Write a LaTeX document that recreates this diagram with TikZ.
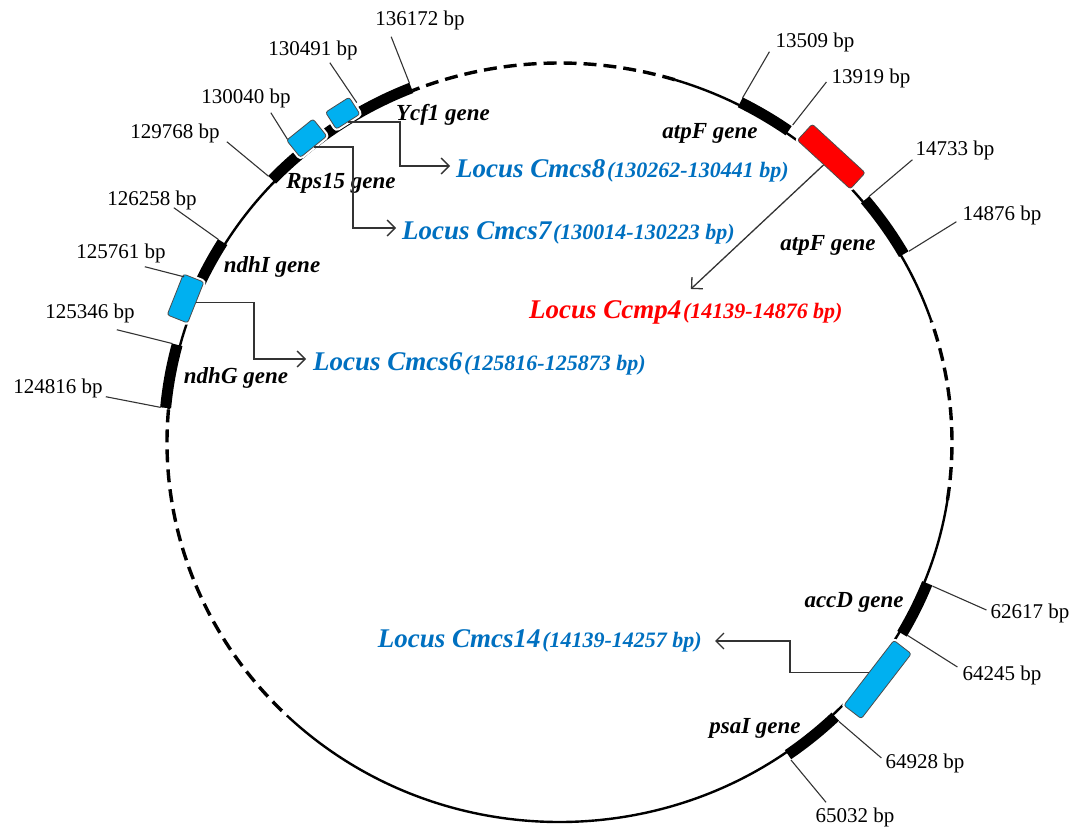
\documentclass[tikz,border=0pt]{standalone}
\usepackage{fontspec}
\setmainfont{Liberation Serif}
\usetikzlibrary{arrows.meta}

\definecolor{locusblue}{HTML}{0070C0}
\definecolor{boxblue}{HTML}{00B0F0}
\definecolor{ccmpred}{HTML}{FF0000}

\newcommand{\locus}[2]{{\fontsize{27}{30}\selectfont #1}\,{\fontsize{22}{24}\selectfont #2}}

\tikzset{
	onring/.style={x radius=392.5, y radius=379.5},
	onbar/.style={x radius=395.5, y radius=382.5},
	ring/.style={line width=2.4pt},
	ringdash/.style={line width=3.4pt, dash pattern=on 13pt off 7pt},
	genebar/.style={line width=11pt},
	locusbox/.style={draw=black!70, line width=0.8pt, fill=boxblue, rounded corners=2.5pt, inner sep=0pt,
		preaction={draw=white, line width=5pt}},
	tick/.style={draw=black!80, line width=1.1pt},
	conn/.style={draw=black!80, line width=1.3pt, -{Straight Barb[length=8pt,width=16pt]}},
	bp/.style={font=\fontsize{21}{24}\selectfont, inner sep=1pt},
	gene/.style={font=\fontsize{23}{26}\selectfont\bfseries\itshape, inner sep=1pt},
	locus/.style={font=\bfseries\itshape, text=locusblue, inner sep=1pt},
}

\begin{document}
\begin{tikzpicture}[x=1pt, y=-1pt]
	\useasboundingbox (0,0) rectangle (1076,829);

	% the ring, its genes and the points on it
	\begin{scope}[shift={(559.5,442.5)}, yscale=-1]
		\draw[ring]     (-134:392.5 and 379.5) arc[onring, start angle=-134, end angle=-8.7];
		\draw[ringdash] (-8.7:392.5 and 379.5) arc[onring, start angle=-8.7, end angle=18.7];
		\draw[ring]     (18.7:392.5 and 379.5) arc[onring, start angle=18.7, end angle=72.9];
		\draw[ringdash] (72.9:392.5 and 379.5) arc[onring, start angle=72.9, end angle=112];
		\draw[ring]     (112:392.5 and 379.5)  arc[onring, start angle=112,  end angle=175];
		\draw[ringdash] (175:392.5 and 379.5)  arc[onring, start angle=175,  end angle=226];

		\draw[genebar] (112:395.5 and 382.5)   arc[onbar, start angle=112,   end angle=136.6];
		\draw[genebar] (148.4:395.5 and 382.5) arc[onbar, start angle=148.4, end angle=156];
		\draw[genebar] (165.2:395.5 and 382.5) arc[onbar, start angle=165.2, end angle=174.8];
		\draw[genebar] (54.6:395.5 and 382.5)  arc[onbar, start angle=54.6,  end angle=62.8];
		\draw[genebar] (29.5:395.5 and 382.5)  arc[onbar, start angle=29.5,  end angle=39.4];
		\draw[genebar] (-30:395.5 and 382.5)   arc[onbar, start angle=-30,   end angle=-21.6];
		\draw[genebar] (-54.7:395.5 and 382.5) arc[onbar, start angle=-54.7, end angle=-45.8];

		\coordinate (t136172) at (112:400.5 and 387.5);
		\coordinate (t130491) at (120:405.5 and 392.5);
		\coordinate (t130040) at (131:414.5 and 401.5);
		\coordinate (t129768) at (136.6:400.5 and 387.5);
		\coordinate (t126258) at (148.4:400.5 and 387.5);
		\coordinate (t125761) at (155.5:412.5 and 399.5);
		\coordinate (t125346) at (165.2:400.5 and 387.5);
		\coordinate (t124816) at (174.8:400.5 and 387.5);
		\coordinate (t13509)  at (62.8:400.5 and 387.5);
		\coordinate (t13919)  at (54.6:402.5 and 389.5);
		\coordinate (t14733)  at (39.4:400.5 and 387.5);
		\coordinate (t14876)  at (29.5:401.5 and 388.5);
		\coordinate (t62617)  at (-21.7:401.5 and 388.5);
		\coordinate (t64245)  at (-29.8:400.5 and 387.5);
		\coordinate (t64928)  at (-45.9:401.5 and 388.5);
		\coordinate (t65032)  at (-54.8:401.5 and 388.5);

		\coordinate (p_cmcs8)  at (122.5:403.5 and 390.5);
		\coordinate (p_cmcs7)  at (128.8:403.5 and 390.5);
		\coordinate (p_cmcs6)  at (158.3:402.5 and 389.5);
		\coordinate (p_ccmp4)  at (47.4:401.5 and 388.5);
		\coordinate (p_cmcs14) at (-37.6:401.5 and 388.5);
	\end{scope}

	% loci
	\node[locusbox, minimum width=28pt, minimum height=20pt, rotate=32.5]  (box_cmcs8)  at (p_cmcs8)  {};
	\node[locusbox, minimum width=34pt, minimum height=22pt, rotate=38.8]  (box_cmcs7)  at (p_cmcs7)  {};
	\node[locusbox, minimum width=44pt, minimum height=22pt, rotate=68.3]  (box_cmcs6)  at (p_cmcs6)  {};
	\node[locusbox, minimum width=72pt, minimum height=22pt, rotate=-42.6, fill=ccmpred] (box_ccmp4) at (p_ccmp4) {};
	\node[locusbox, minimum width=82pt, minimum height=22pt, rotate=-127.6] (box_cmcs14) at (p_cmcs14) {};

	% positions
	\node[bp] (bp136172) at (420,20)   {136172 bp};
	\node[bp] (bp130491) at (313,50)   {130491 bp};
	\node[bp] (bp130040) at (246,98)   {130040 bp};
	\node[bp] (bp129768) at (175,133)  {129768 bp};
	\node[bp] (bp126258) at (152,200)  {126258 bp};
	\node[bp] (bp125761) at (121,253)  {125761 bp};
	\node[bp] (bp125346) at (90,313)   {125346 bp};
	\node[bp] (bp124816) at (58,388)   {124816 bp};
	\node[bp] (bp13509)  at (815,42)   {13509 bp};
	\node[bp] (bp13919)  at (871,78)   {13919 bp};
	\node[bp] (bp14733)  at (955,150)  {14733 bp};
	\node[bp] (bp14876)  at (1002,215) {14876 bp};
	\node[bp] (bp62617)  at (1030,613) {62617 bp};
	\node[bp] (bp64245)  at (1002,675) {64245 bp};
	\node[bp] (bp64928)  at (925,763)  {64928 bp};
	\node[bp] (bp65032)  at (855,817)  {65032 bp};

	\draw[tick] (t136172) -- ([xshift=17pt,yshift=-6pt]bp136172.south west);
	\draw[tick] (t130491) -- ([xshift=-29pt,yshift=-2pt]bp130491.south east);
	\draw[tick] (t130040) -- ([xshift=-21pt,yshift=-4pt]bp130040.south east);
	\draw[tick] (t129768) -- ([xshift=6pt,yshift=2pt]bp129768.south east);
	\draw[tick] (t126258) -- ([xshift=-24pt,yshift=3pt]bp126258.south east);
	\draw[tick] (t125761) -- ([xshift=-22pt,yshift=-3pt]bp125761.south east);
	\draw[tick] (t125346) -- ([xshift=-19pt,yshift=-6pt]bp125346.south east);
	\draw[tick] (t124816) -- ([xshift=2pt,yshift=2pt]bp124816.south east);
	\draw[tick] (t13509)  -- ([xshift=-5pt,yshift=1pt]bp13509.south west);
	\draw[tick] (t13919)  -- ([xshift=-4pt,yshift=-4pt]bp13919.west);
	\draw[tick] (t14733)  -- ([xshift=-2pt,yshift=1pt]bp14733.south west);
	\draw[tick] (t14876)  -- ([xshift=-5pt,yshift=4pt]bp14876.south west);
	\draw[tick] (t62617)  -- ([xshift=-3pt,yshift=3pt]bp62617.west);
	\draw[tick] (t64245)  -- ([xshift=-4pt,yshift=8pt]bp64245.west);
	\draw[tick] (t64928)  -- ([xshift=-3pt,yshift=5pt]bp64928.west);
	\draw[tick] (t65032)  -- ([xshift=-29pt,yshift=4pt]bp65032.north);

	% genes
	\node[gene] (ycf1)  at (443,115) {Ycf1 gene};
	\node[gene] (rps15) at (341,183) {Rps15 gene};
	\node[gene] (ndhi)  at (272,267) {ndhI gene};
	\node[gene] (ndhg)  at (236,378) {ndhG gene};
	\node[gene] (atpf1) at (710,133) {atpF gene};
	\node[gene] (atpf2) at (828,245) {atpF gene};
	\node[gene] (accd)  at (854,602) {accD gene};
	\node[gene] (psai)  at (755,728) {psaI gene};

	% locus names
	\node[locus, anchor=west] (loc_cmcs8)  at (455,171) {\locus{Locus Cmcs8}{(130262-130441 bp)}};
	\node[locus, anchor=west] (loc_cmcs7)  at (401,233) {\locus{Locus Cmcs7}{(130014-130223 bp)}};
	\node[locus, anchor=west] (loc_cmcs6)  at (312,364) {\locus{Locus Cmcs6}{(125816-125873 bp)}};
	\node[locus, anchor=west, text=ccmpred] (loc_ccmp4) at (528,312) {\locus{Locus Ccmp4}{(14139-14876 bp)}};
	\node[locus, anchor=east] (loc_cmcs14) at (703,641) {\locus{Locus Cmcs14}{(14139-14257 bp)}};

	\draw[conn] (box_cmcs8.south) -| ([xshift=-55pt,yshift=5pt]loc_cmcs8.west) -- ([xshift=-5pt,yshift=5pt]loc_cmcs8.west);
	\draw[conn] (box_cmcs7.south) -| ([xshift=-48pt,yshift=5pt]loc_cmcs7.west) -- ([xshift=-5pt,yshift=5pt]loc_cmcs7.west);
	\draw[conn] (box_cmcs6.south) -| ([xshift=-58pt,yshift=5pt]loc_cmcs6.west) -- ([xshift=-6pt,yshift=5pt]loc_cmcs6.west);
	\draw[conn] (box_ccmp4.south) -- ([xshift=5pt,yshift=10pt]loc_ccmp4.north);
	\draw[conn] (box_cmcs14.south) -| ([xshift=87pt]loc_cmcs14.east) -- ([xshift=12pt]loc_cmcs14.east);
\end{tikzpicture}
\end{document}
